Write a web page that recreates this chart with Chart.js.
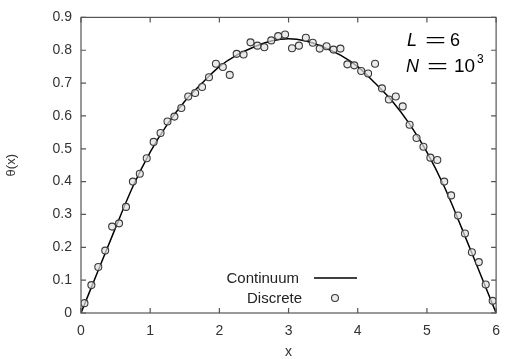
<!DOCTYPE html>
<html>
<head>
<meta charset="utf-8">
<script src="https://cdn.jsdelivr.net/npm/chart.js@4"></script>
<style>
  html, body { margin: 0; padding: 0; background: #fff; }
  #wrap { width: 510px; height: 359px; }
</style>
</head>
<body>
<div id="wrap"><canvas id="chart" width="510" height="359"></canvas></div>
<script>
// continuum curve
const continuumX = [0, 0.25, 0.5, 0.75, 1, 1.25, 1.5, 1.75, 2, 2.25, 2.5, 2.75, 3,
  3.25, 3.5, 3.75, 4, 4.25, 4.5, 4.75, 5, 5.25, 5.5, 5.75, 6];
const continuumY = [0, 0.13, 0.26, 0.385, 0.49, 0.575, 0.645, 0.70, 0.75, 0.785, 0.81, 0.828, 0.835,
  0.828, 0.81, 0.785, 0.75, 0.70, 0.645, 0.575, 0.49, 0.385, 0.26, 0.13, 0];

// discrete points
const discreteX = [0.05, 0.15, 0.25, 0.35, 0.45, 0.55, 0.65, 0.75, 0.85, 0.95,
  1.05, 1.15, 1.25, 1.35, 1.45, 1.55, 1.65, 1.75, 1.85, 1.95,
  2.05, 2.15, 2.25, 2.35, 2.45, 2.55, 2.65, 2.75, 2.85, 2.95,
  3.05, 3.15, 3.25, 3.35, 3.45, 3.55, 3.65, 3.75, 3.85, 3.95,
  4.05, 4.15, 4.25, 4.35, 4.45, 4.55, 4.65, 4.75, 4.85, 4.95,
  5.05, 5.15, 5.25, 5.35, 5.45, 5.55, 5.65, 5.75, 5.85, 5.95];
const discreteY = [0.03, 0.085, 0.14, 0.19, 0.263, 0.273, 0.323, 0.40, 0.424, 0.471,
  0.521, 0.548, 0.583, 0.598, 0.624, 0.659, 0.67, 0.688, 0.718, 0.759,
  0.749, 0.725, 0.789, 0.787, 0.824, 0.814, 0.809, 0.830, 0.843, 0.848,
  0.806, 0.814, 0.838, 0.823, 0.805, 0.812, 0.802, 0.805, 0.757, 0.754,
  0.737, 0.729, 0.759, 0.684, 0.650, 0.659, 0.629, 0.573, 0.533, 0.506,
  0.473, 0.466, 0.40, 0.358, 0.297, 0.242, 0.185, 0.155, 0.087, 0.037];

const xTicks = [0, 1, 2, 3, 4, 5, 6];
const yTicks = [0, 0.1, 0.2, 0.3, 0.4, 0.5, 0.6, 0.7, 0.8, 0.9];

const FONT = "'Liberation Sans', Arial, sans-serif";
const FRAME = "#555";
const DOT_FILL = "rgba(225,225,225,0.7)";
const DOT_EDGE = "#3a3a3a";

// wide "=" like the TeX one in the reference
function wideEquals(ctx, x, y) {
  ctx.save();
  ctx.translate(x, y);
  ctx.scale(2, 1);
  ctx.fillText("=", 0, 0);
  ctx.restore();
}

// gnuplot-style box with inward ticks, in-plot legend and the L/N label
const framePlugin = {
  id: "frame",
  afterDraw(chart) {
    const { ctx, chartArea: a, scales } = chart;
    ctx.save();
    ctx.strokeStyle = FRAME;
    ctx.lineWidth = 1.2;
    ctx.strokeRect(a.left, a.top, a.right - a.left, a.bottom - a.top);
    ctx.beginPath();
    xTicks.forEach((v) => {
      const px = scales.x.getPixelForValue(v);
      ctx.moveTo(px, a.bottom); ctx.lineTo(px, a.bottom - 5);
      ctx.moveTo(px, a.top); ctx.lineTo(px, a.top + 5);
    });
    yTicks.forEach((v) => {
      const py = scales.y.getPixelForValue(v);
      ctx.moveTo(a.left, py); ctx.lineTo(a.left + 5, py);
      ctx.moveTo(a.right, py); ctx.lineTo(a.right - 5, py);
    });
    ctx.stroke();

    // legend
    ctx.fillStyle = "#222";
    ctx.font = "15px " + FONT;
    ctx.textAlign = "right";
    ctx.textBaseline = "middle";
    ctx.fillText("Continuum", 299, 279);
    ctx.fillText("Discrete", 302, 299);
    ctx.strokeStyle = "#000";
    ctx.lineWidth = 1.5;
    ctx.beginPath();
    ctx.moveTo(314, 278); ctx.lineTo(357, 278);
    ctx.stroke();
    ctx.beginPath();
    ctx.arc(335, 298, 3.5, 0, Math.PI * 2);
    ctx.fillStyle = DOT_FILL;
    ctx.fill();
    ctx.strokeStyle = DOT_EDGE;
    ctx.lineWidth = 1.1;
    ctx.stroke();

    // L = 6, N = 10^3
    ctx.fillStyle = "#000";
    ctx.textAlign = "left";
    ctx.textBaseline = "alphabetic";
    ctx.font = "italic 18px " + FONT;
    ctx.fillText("L", 407, 46);
    ctx.fillText("N", 406, 72);
    ctx.font = "18px " + FONT;
    wideEquals(ctx, 425, 46);
    wideEquals(ctx, 427, 72);
    ctx.fillText("6", 450, 46);
    ctx.font = "19px " + FONT;
    ctx.fillText("10", 454, 72);
    ctx.font = "12px " + FONT;
    ctx.fillText("3", 477, 63);
    ctx.restore();
  },
};

new Chart(document.getElementById("chart"), {
  type: "scatter",
  data: {
    datasets: [
      {
        label: "Continuum",
        type: "line",
        data: continuumX.map((x, i) => ({ x, y: continuumY[i] })),
        borderColor: "#000",
        borderWidth: 1.5,
        pointRadius: 0,
        cubicInterpolationMode: "monotone",
        fill: false,
        order: 1,
      },
      {
        label: "Discrete",
        data: discreteX.map((x, i) => ({ x, y: discreteY[i] })),
        pointRadius: 3.5,
        pointBorderWidth: 1.1,
        borderColor: DOT_EDGE,
        backgroundColor: DOT_FILL,
        order: 0,
      },
    ],
  },
  options: {
    responsive: false,
    animation: false,
    layout: { padding: { top: 14, right: 9, left: 0, bottom: 0 } },
    plugins: {
      legend: { display: false },
      tooltip: { enabled: false },
    },
    scales: {
      x: {
        type: "linear",
        min: 0,
        max: 6,
        afterFit: (s) => { s.height = 46; },
        afterBuildTicks: (s) => { s.ticks = xTicks.map((v) => ({ value: v })); },
        grid: { display: false, drawTicks: false },
        border: { display: false },
        ticks: { padding: 10, color: "#333", font: { family: FONT, size: 14 } },
        title: { display: true, text: "x", color: "#333", padding: { top: 0, bottom: -2 }, font: { family: FONT, size: 14 } },
      },
      y: {
        min: 0,
        max: 0.9,
        afterFit: (s) => { s.width = 81; },
        afterBuildTicks: (s) => { s.ticks = yTicks.map((v) => ({ value: v })); },
        grid: { display: false, drawTicks: false },
        border: { display: false },
        ticks: { padding: 9, color: "#333", font: { family: FONT, size: 14 } },
        title: { display: true, text: "θ(x)", color: "#333", padding: { top: 4 }, font: { family: FONT, size: 13 } },
      },
    },
  },
  plugins: [framePlugin],
});
</script>
</body>
</html>
